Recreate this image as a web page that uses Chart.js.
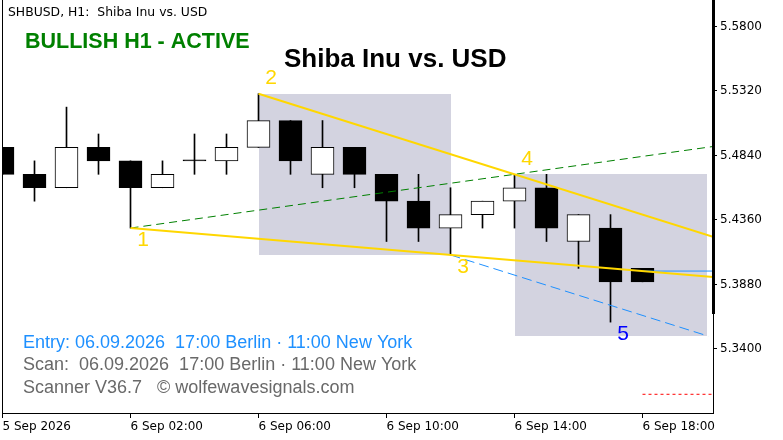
<!DOCTYPE html>
<html lang="en">
<head>
<meta charset="utf-8" />
<title>SHBUSD, H1 - Shiba Inu vs. USD</title>
<style>
  html, body { margin: 0; padding: 0; background: #fff; }
  #wrap { width: 783px; height: 440px; }
</style>
</head>
<body>
<div id="wrap"><canvas id="shbChart" width="783" height="440"></canvas></div>
<script src="https://cdn.jsdelivr.net/npm/chart.js"></script>
<script>
// hourly candles, 5 Sep 22:00 .. 6 Sep 18:00
const candleOpen  = [5.49, 5.47, 5.46, 5.49, 5.48, 5.46, 5.48, 5.48, 5.49, 5.51, 5.47, 5.49, 5.47, 5.45, 5.43, 5.44, 5.45, 5.46, 5.42, 5.43, 5.40];
const candleClose = [5.47, 5.46, 5.49, 5.48, 5.46, 5.47, 5.48, 5.49, 5.51, 5.48, 5.49, 5.47, 5.45, 5.43, 5.44, 5.45, 5.46, 5.43, 5.44, 5.39, 5.39];
const candleHigh  = [5.49, 5.48, 5.52, 5.50, 5.48, 5.48, 5.50, 5.50, 5.53, 5.51, 5.51, 5.49, 5.47, 5.47, 5.46, 5.45, 5.47, 5.47, 5.44, 5.44, 5.40];
const candleLow   = [5.47, 5.45, 5.46, 5.47, 5.43, 5.46, 5.47, 5.47, 5.49, 5.47, 5.46, 5.46, 5.42, 5.42, 5.41, 5.43, 5.43, 5.42, 5.40, 5.36, 5.39];

const timeTicks  = [0, 4, 8, 12, 16, 20];
const timeLabels = ['5 Sep 2026', '6 Sep 02:00', '6 Sep 06:00', '6 Sep 10:00', '6 Sep 14:00', '6 Sep 18:00'];
const priceTicks = [5.3400, 5.3880, 5.4360, 5.4840, 5.5320, 5.5800];

// wolfe wave points 1..5 (bar index, price)
const waveBar   = [4, 8, 14, 16, 19];
const wavePrice = [5.43, 5.53, 5.41, 5.47, 5.36];
const waveNames = ['1', '2', '3', '4', '5'];

// shaded boxes (bar index range, price range)
const boxFrom   = [8, 16];
const boxTo     = [14, 22];
const boxTop    = [5.53, 5.47];
const boxBottom = [5.41, 5.35];

const entryPrice  = 5.398;
const targetPrice = 5.3063;

// visible range
const xMin = -0.0156, xMax = 22.203;
const yMin = 5.29237, yMax = 5.59972;

function slope(a, b) {
  return (wavePrice[b] - wavePrice[a]) / (waveBar[b] - waveBar[a]);
}
function extend(a, b, toBar) {
  return wavePrice[a] + slope(a, b) * (toBar - waveBar[a]);
}

const bars = candleOpen.map((o, i) => i);
const bodyData = bars.map(i => ({ x: i, y: [candleOpen[i], candleClose[i]] }));
const wickData = bars.map(i => ({ x: i, y: [candleLow[i], candleHigh[i]] }));
const bodyColors = bars.map(i => candleClose[i] > candleOpen[i] ? '#ffffff' : '#000000');

const blueEnd = 22.05;

const overlay = {
  id: 'overlay',
  beforeDatasetsDraw(chart) {
    const { ctx, chartArea: a, scales: { x, y } } = chart;
    ctx.save();
    ctx.beginPath();
    ctx.rect(a.left, a.top, a.right - a.left, a.bottom - a.top);
    ctx.clip();
    ctx.fillStyle = 'rgb(211,211,224)';
    boxFrom.forEach((b, i) => {
      const x0 = Math.round(x.getPixelForValue(b));
      const x1 = Math.round(x.getPixelForValue(boxTo[i]));
      const y0 = Math.round(y.getPixelForValue(boxTop[i]));
      const y1 = Math.round(y.getPixelForValue(boxBottom[i]));
      ctx.fillRect(x0, y0, x1 - x0, y1 - y0);
    });
    ctx.restore();
  },
  afterDraw(chart) {
    const { ctx, chartArea: a, scales: { x, y } } = chart;
    ctx.save();
    // frame
    ctx.strokeStyle = '#000';
    ctx.lineWidth = 1;
    ctx.beginPath();
    ctx.moveTo(a.left + 0.5, a.top);
    ctx.lineTo(a.left + 0.5, a.bottom);
    ctx.stroke();
    ctx.fillStyle = '#000';
    ctx.fillRect(a.right - 1, a.top, 3, Math.round(y.getPixelForValue(5.366)) - a.top);

    // wave labels
    ctx.textAlign = 'center';
    ctx.textBaseline = 'middle';
    ctx.font = '21px "Liberation Sans", Arial, sans-serif';
    waveNames.forEach((n, i) => {
      const px = x.getPixelForValue(waveBar[i]) + 12.5;
      const py = y.getPixelForValue(wavePrice[i]) + (i % 2 === 1 ? -15 : 12.5);
      ctx.fillStyle = i === 4 ? '#0000ff' : '#ffd700';
      ctx.fillText(n, px, py);
    });

    ctx.textAlign = 'left';
    ctx.fillStyle = '#000';
    ctx.font = '12.4px "DejaVu Sans", sans-serif';
    ctx.fillText('SHBUSD, H1:  Shiba Inu vs. USD', 8, 13);

    ctx.fillStyle = '#008000';
    ctx.font = 'bold 21.5px "Liberation Sans", Arial, sans-serif';
    ctx.fillText('BULLISH H1 - ACTIVE', 25, 42);

    ctx.fillStyle = '#000';
    ctx.font = 'bold 26px "Liberation Sans", Arial, sans-serif';
    ctx.fillText('Shiba Inu vs. USD', 284, 60);

    ctx.font = '18px "Liberation Sans", Arial, sans-serif';
    ctx.fillStyle = '#1e90ff';
    ctx.fillText('Entry: 06.09.2026  17:00 Berlin \u00b7 11:00 New York', 23, 343);
    ctx.fillStyle = '#696969';
    ctx.fillText('Scan:  06.09.2026  17:00 Berlin \u00b7 11:00 New York', 23, 365);
    ctx.fillText('Scanner V36.7   \u00a9 wolfewavesignals.com', 23, 388);
    ctx.restore();
  }
};

const ctx = document.getElementById('shbChart');

new Chart(ctx, {
  type: 'bar',
  data: {
    datasets: [
      {
        type: 'line', order: 0,
        data: [{ x: waveBar[0], y: wavePrice[0] }, { x: xMax, y: extend(0, 2, xMax) }],
        borderColor: '#ffd700', borderWidth: 2, pointRadius: 0, fill: false
      },
      {
        type: 'line', order: 0,
        data: [{ x: waveBar[1], y: wavePrice[1] }, { x: xMax, y: extend(1, 3, xMax) }],
        borderColor: '#ffd700', borderWidth: 2, pointRadius: 0, fill: false
      },
      {
        type: 'line', order: 1,
        data: [{ x: waveBar[0], y: wavePrice[0] }, { x: xMax, y: extend(0, 3, xMax) }],
        borderColor: '#008000', borderWidth: 1, borderDash: [8, 5], pointRadius: 0, fill: false
      },
      {
        type: 'line', order: 1,
        data: [{ x: waveBar[2], y: wavePrice[2] },
               { x: blueEnd, y: wavePrice[2] + slope(1, 3) * (blueEnd - waveBar[2]) }],
        borderColor: '#1e90ff', borderWidth: 1, borderDash: [10, 5], pointRadius: 0, fill: false
      },
      {
        type: 'line', order: 1,
        data: [{ x: 20, y: entryPrice }, { x: xMax, y: entryPrice }],
        borderColor: '#1e90ff', borderWidth: 1, pointRadius: 0, fill: false
      },
      {
        type: 'line', order: 1,
        data: [{ x: 20, y: targetPrice }, { x: 22.18, y: targetPrice }],
        borderColor: '#ff0000', borderWidth: 1, borderDash: [3, 3], pointRadius: 0, fill: false
      },
      {
        order: 2, data: bodyData, grouped: false,
        barThickness: 23, minBarLength: 1,
        backgroundColor: bodyColors, borderColor: '#000', borderWidth: 1, borderSkipped: false
      },
      {
        order: 3, data: wickData, grouped: false,
        barThickness: 1, backgroundColor: '#000', borderWidth: 0
      }
    ]
  },
  options: {
    responsive: false,
    animation: false,
    events: [],
    layout: { padding: { left: 2, top: 0, right: 0, bottom: 0 } },
    plugins: { legend: { display: false }, tooltip: { enabled: false } },
    scales: {
      x: {
        type: 'linear', min: xMin, max: xMax, offset: false,
        afterBuildTicks: s => { s.ticks = timeTicks.map(v => ({ value: v })); },
        afterFit: s => { s.height = 27; s.paddingLeft = 0; s.paddingRight = 0; },
        ticks: {
          autoSkip: false, maxRotation: 0, align: 'start', padding: 2, color: '#000',
          font: { family: 'DejaVu Sans', size: 12 },
          callback: v => timeLabels[timeTicks.indexOf(v)]
        },
        grid: { drawOnChartArea: false, offset: false, tickLength: 5, color: '#000' },
        border: { color: '#000' }
      },
      y: {
        position: 'right', min: yMin, max: yMax,
        afterBuildTicks: s => { s.ticks = priceTicks.map(v => ({ value: v })); },
        afterFit: s => { s.width = 70; s.paddingTop = 0; s.paddingBottom = 0; },
        ticks: {
          padding: 3, color: '#000',
          font: { family: 'DejaVu Sans', size: 12 },
          callback: v => v.toFixed(4)
        },
        grid: { drawOnChartArea: false, tickLength: 4, color: '#000' },
        border: { color: '#000' }
      }
    }
  },
  plugins: [overlay]
});
</script>
</body>
</html>
